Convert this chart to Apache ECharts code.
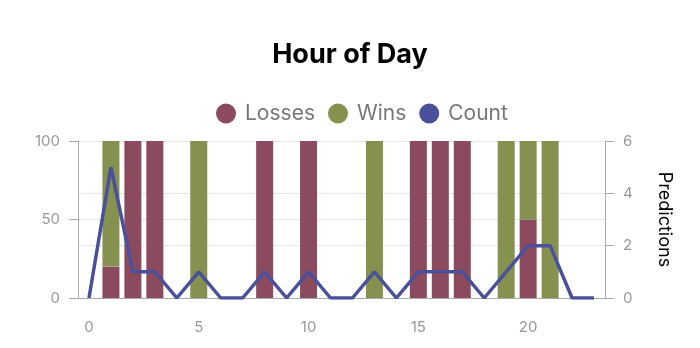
<!DOCTYPE html>
<html><head><meta charset="utf-8">
<script src="https://cdn.jsdelivr.net/npm/echarts@6/dist/echarts.min.js"></script>
<style>html,body{margin:0;padding:0;background:#fff}#c{width:700px;height:348px}</style>
</head><body><div id="c"></div>
<script>
const hours = ['0','1','2','3','4','5','6','7','8','9','10','11','12','13','14','15','16','17','18','19','20','21','22','23'];
const losses = [null,20,100,100,null,0,null,null,100,null,100,null,null,0,null,100,100,100,null,0,50,0,null,null];
const wins = [null,80,0,0,null,100,null,null,0,null,0,null,null,100,null,0,0,0,null,100,50,100,null,null];
const counts = [0,5,1,1,0,1,0,0,1,0,1,0,0,1,0,1,1,1,0,1,2,2,0,0];
const leftTicks = [0,50,100];
const rightTicks = [0,2,4,6];

const font = 'Inter, "Liberation Sans", Arial, sans-serif';
const chart = echarts.init(document.getElementById('c'), null, {renderer:'canvas'});
chart.setOption({
  animation:false,
  textStyle:{fontFamily:font},
  title:{text:'Hour of Day',left:'center',top:36,textStyle:{fontSize:27,fontWeight:'bold',color:'#000',fontFamily:font}},
  legend:{top:98,left:211,icon:'circle',itemWidth:20,itemHeight:20,itemGap:13,
    textStyle:{fontSize:21,color:'#777',fontFamily:font,padding:[0,0,0,4]},data:['Losses','Wins','Count']},
  grid:{left:78,right:95,top:141,bottom:50},
  xAxis:{type:'category',data:hours,boundaryGap:true,
    axisLine:{lineStyle:{color:'#aaa'}},
    axisTick:{alignWithLabel:true,interval:4,length:9,lineStyle:{color:'#aaa'}},
    axisLabel:{interval:4,color:'#999',fontSize:15,margin:22}},
  yAxis:[
    {type:'value',min:leftTicks[0],max:leftTicks[leftTicks.length-1],interval:50,
      axisLine:{show:true,lineStyle:{color:'#aaa'}},axisTick:{show:true,length:9,lineStyle:{color:'#aaa'}},
      axisLabel:{color:'#999',fontSize:15,margin:18},splitLine:{lineStyle:{color:'#e6e6e6'}}},
    {type:'value',min:rightTicks[0],max:rightTicks[rightTicks.length-1],interval:2,position:'right',
      name:'Predictions',nameLocation:'middle',nameRotate:-90,nameGap:50,
      nameTextStyle:{color:'#000',fontSize:18,fontFamily:font},
      axisLine:{show:true,lineStyle:{color:'#aaa'}},axisTick:{show:true,length:9,lineStyle:{color:'#aaa'}},
      axisLabel:{color:'#999',fontSize:15,margin:18},splitLine:{lineStyle:{color:'#e6e6e6'}}}
  ],
  series:[
    {name:'Losses',type:'bar',stack:'s',data:losses,barWidth:17,itemStyle:{color:'#8b4a5e'},yAxisIndex:0},
    {name:'Wins',type:'bar',stack:'s',data:wins,barWidth:17,itemStyle:{color:'#84914f'},yAxisIndex:0},
    {name:'Count',type:'line',data:counts,yAxisIndex:1,symbol:'none',
      lineStyle:{color:'#4a5099',width:3.5},itemStyle:{color:'#4a5099'}}
  ]
});
</script></body></html>
